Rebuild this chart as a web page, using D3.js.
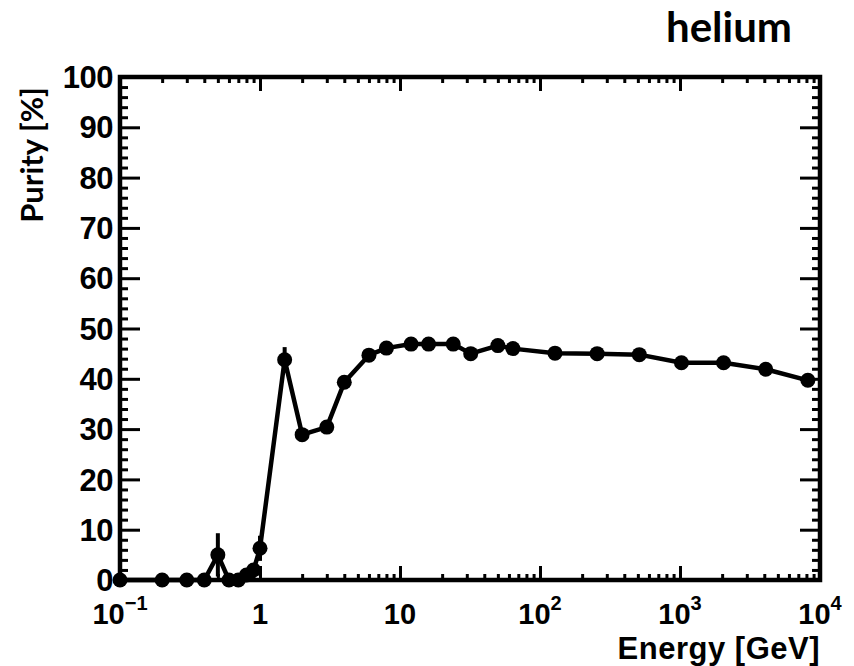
<!DOCTYPE html>
<html>
<head>
<meta charset="utf-8">
<script src="https://cdn.jsdelivr.net/npm/d3@7"></script>
<style>
html,body{margin:0;padding:0;background:#fff;}
svg{display:block;}
</style>
</head>
<body>
<svg id="chart" width="854" height="666"></svg>
<script>
// ---- data ----
const energy = [0.1, 0.2, 0.3, 0.4, 0.5, 0.6, 0.7, 0.8, 0.9, 1.0, 1.5, 2, 3, 4, 6, 8, 12, 16, 24, 32, 50, 64, 128, 256, 512, 1024, 2048, 4096, 8192];
const purity = [0, 0, 0, 0, 5, 0, 0, 1, 2, 6.3, 43.8, 28.9, 30.4, 39.3, 44.7, 46.1, 46.9, 46.9, 46.9, 45.0, 46.6, 46.0, 45.1, 45.0, 44.8, 43.2, 43.2, 41.9, 39.7];
const purityErr = [0, 0, 0, 0, 4.3, 0, 0, 0.6, 1, 2.5, 2.5, 0.8, 0.8, 0.8, 0.6, 0.5, 0.5, 0.5, 0.5, 0.5, 0.5, 0.5, 0.5, 0.5, 0.5, 0.5, 0.5, 0.5, 0.8];
const xMajor = [0.1, 1, 10, 100, 1000, 10000];
const xMajorLabels = [["10","\u22121"], ["1",""], ["10",""], ["10","2"], ["10","3"], ["10","4"]];
const yMajor = [0, 10, 20, 30, 40, 50, 60, 70, 80, 90, 100];
const yMinor = d3.range(0, 100.01, 2).filter(v => v % 10 !== 0);
const xTitle = "Energy [GeV]";
const yTitle = "Purity [%]";
const title = "helium";

// ---- layout ----
const L = 120, R = 820, T = 77, B = 580;
const svg = d3.select("#chart");
const x = d3.scaleLog().domain([0.1, 10000]).range([L, R]);
const y = d3.scaleLinear().domain([0, 100]).range([B, T]);

const xMinor = [];
for (let d = 0.1; d < 10000; d *= 10) for (let k = 2; k <= 9; k++) xMinor.push(d * k);

function styleAxis(g) {
  g.select(".domain").remove();
  g.selectAll(".tick line").attr("stroke", "#000").attr("stroke-width", 3);
  g.selectAll(".tick text").remove();
}
// bottom & top x ticks (inward)
svg.append("g").attr("transform", `translate(0,${B})`).call(d3.axisBottom(x).tickValues(xMajor).tickSize(-14).tickFormat("")).call(styleAxis);
svg.append("g").attr("transform", `translate(0,${B})`).call(d3.axisBottom(x).tickValues(xMinor).tickSize(-6).tickFormat("")).call(styleAxis);
svg.append("g").attr("transform", `translate(0,${T})`).call(d3.axisTop(x).tickValues(xMajor).tickSize(-14).tickFormat("")).call(styleAxis);
svg.append("g").attr("transform", `translate(0,${T})`).call(d3.axisTop(x).tickValues(xMinor).tickSize(-6).tickFormat("")).call(styleAxis);
// left & right y ticks (inward)
svg.append("g").attr("transform", `translate(${L},0)`).call(d3.axisLeft(y).tickValues(yMajor).tickSize(-20).tickFormat("")).call(styleAxis);
svg.append("g").attr("transform", `translate(${L},0)`).call(d3.axisLeft(y).tickValues(yMinor).tickSize(-8).tickFormat("")).call(styleAxis);
svg.append("g").attr("transform", `translate(${R},0)`).call(d3.axisRight(y).tickValues(yMajor).tickSize(-20).tickFormat("")).call(styleAxis);
svg.append("g").attr("transform", `translate(${R},0)`).call(d3.axisRight(y).tickValues(yMinor).tickSize(-8).tickFormat("")).call(styleAxis);

// frame
svg.append("rect").attr("x", L).attr("y", T).attr("width", R - L).attr("height", B - T)
  .attr("fill", "none").attr("stroke", "#000").attr("stroke-width", 4.5);

const font = "'Liberation Sans', Arial, Helvetica, sans-serif";
// y tick labels
svg.append("g").selectAll("text").data(yMajor).join("text")
  .attr("x", L - 7).attr("y", d => y(d)).attr("dy", "0.36em")
  .attr("text-anchor", "end").attr("font-family", font).attr("font-weight", "bold")
  .attr("font-size", 31).attr("letter-spacing", -0.5).text(d => d);

// x tick labels
const xl = svg.append("g").selectAll("text").data(xMajor).join("text")
  .attr("x", d => x(d)).attr("y", 624)
  .attr("text-anchor", "middle").attr("font-family", font).attr("font-weight", "bold")
  .attr("font-size", 29);
xl.each(function(d, i) {
  const t = d3.select(this);
  const lab = xMajorLabels[i];
  t.append("tspan").text(lab[0]);
  if (lab[1]) t.append("tspan").attr("font-size", 20).attr("dy", -14).text(lab[1]);
});

// axis titles
svg.append("text").attr("x", R).attr("y", 659).attr("text-anchor", "end")
  .attr("font-family", font).attr("font-weight", "bold").attr("font-size", 31).attr("letter-spacing", 0.5).text(xTitle);
svg.append("text").attr("transform", `translate(43,155) rotate(-90)`).attr("text-anchor", "middle")
  .attr("font-family", "Lato, 'Open Sans', sans-serif").attr("font-weight", "bold").attr("font-size", 31).text(yTitle);
svg.append("text").attr("x", 729).attr("y", 42).attr("text-anchor", "middle")
  .attr("font-family", "Lato, 'Open Sans', sans-serif").attr("font-weight", "bold").attr("font-size", 42).text(title);

// data
const pts = energy.map((e, i) => ({e, v: purity[i], err: purityErr[i]}));
const gData = svg.append("g");
gData.selectAll("line.err").data(pts.filter(p => p.err > 0)).join("line").attr("class", "err")
  .attr("x1", p => x(p.e)).attr("x2", p => x(p.e))
  .attr("y1", p => y(Math.max(0, p.v - p.err))).attr("y2", p => y(p.v + p.err))
  .attr("stroke", "#000").attr("stroke-width", 4);
gData.append("path").datum(pts)
  .attr("d", d3.line().x(p => x(p.e)).y(p => y(p.v)))
  .attr("fill", "none").attr("stroke", "#000").attr("stroke-width", 4.5).attr("stroke-linejoin", "round");
gData.selectAll("circle").data(pts).join("circle")
  .attr("cx", p => x(p.e)).attr("cy", p => y(p.v)).attr("r", 7.5).attr("fill", "#000");
</script>
</body>
</html>
